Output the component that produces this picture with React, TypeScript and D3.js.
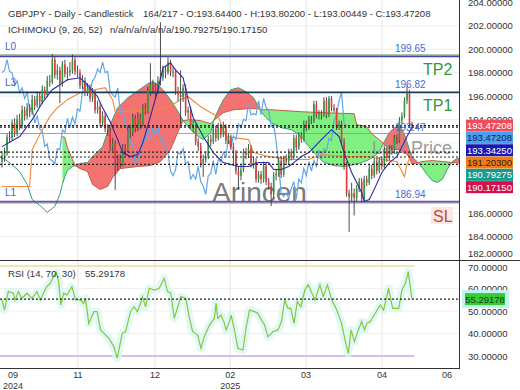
import React from 'react';
import * as d3 from 'd3';

type Pt = [number, number];

// daily candles, bar index 0..163
const OPEN = [
  190.4, 190.9, 191.1, 192.5, 192.4, 193.7, 192.8, 194.0, 193.4, 194.8,
  194.3, 195.0, 194.6, 195.7, 195.2, 196.0, 195.5, 196.5, 196.1, 197.3,
  197.2, 199.1, 197.8, 198.2, 197.1, 198.7, 197.9, 198.0, 198.2, 199.1,
  198.1, 198.0, 196.9, 197.3, 196.3, 196.7, 195.8, 196.3, 194.8, 195.1,
  193.7, 194.3, 193.2, 193.0, 191.7, 191.9, 190.6, 190.5, 190.2, 191.5,
  191.4, 193.1, 192.9, 194.1, 193.3, 194.2, 193.6, 194.9, 194.7, 196.4,
  197.0, 196.8, 196.4, 197.3, 197.6, 198.3, 198.0, 198.9, 198.0, 198.1,
  196.4, 196.1, 195.9, 196.7, 194.6, 194.8, 193.5, 193.3, 192.1, 191.7,
  190.2, 190.6, 190.8, 192.3, 192.1, 193.2, 192.4, 193.3, 192.7, 193.4,
  192.2, 192.4, 191.7, 191.1, 189.6, 189.2, 189.7, 191.2, 191.0, 191.5,
  190.2, 190.4, 188.9, 189.3, 188.9, 190.0, 188.7, 188.3, 187.6, 189.2,
  189.4, 190.5, 189.3, 190.6, 190.4, 191.2, 190.8, 192.4, 191.6, 192.6,
  192.3, 193.6, 193.3, 194.0, 193.9, 195.3, 194.4, 194.5, 194.4, 195.6,
  194.4, 195.8, 195.0, 194.8, 193.4, 193.6, 192.1, 190.0, 187.7, 187.4,
  187.7, 187.3, 188.1, 188.7, 187.2, 188.9, 188.6, 189.8, 189.2, 190.4,
  189.6, 190.5, 190.0, 191.4, 190.7, 191.5, 191.3, 192.4, 192.2, 193.9,
  194.3, 195.6, 196.3, 193.644,
];
const HIGH = [
  191.3, 191.6, 192.8, 193.0, 194.0, 194.1, 194.4, 194.5, 195.2, 195.1,
  195.4, 195.3, 196.1, 196.0, 196.4, 196.3, 196.9, 196.8, 197.7, 197.8,
  199.6, 199.4, 198.7, 198.5, 199.0, 199.1, 198.5, 198.9, 199.55, 199.3,
  198.6, 198.3, 197.8, 197.6, 197.1, 197.0, 196.7, 196.5, 195.6, 195.4,
  194.7, 194.6, 193.6, 193.3, 192.4, 192.2, 191.0, 191.0, 191.9, 191.9,
  193.5, 193.5, 194.5, 194.4, 194.6, 194.5, 195.3, 195.4, 196.8, 198.8,
  197.4, 197.1, 197.7, 202.3, 198.6, 198.6, 199.3, 199.1, 198.5, 198.3,
  196.8, 198.2, 197.0, 197.0, 195.1, 195.1, 193.9, 193.6, 192.4, 192.0,
  191.0, 191.3, 192.6, 192.7, 193.6, 193.5, 193.7, 193.6, 193.8, 193.6,
  192.8, 192.7, 192.0, 191.4, 190.0, 190.1, 191.5, 191.6, 191.9, 191.8,
  190.8, 190.7, 189.6, 189.6, 190.4, 190.3, 189.0, 188.6, 189.5, 189.8,
  190.8, 190.8, 190.9, 191.0, 191.5, 191.5, 192.7, 192.7, 192.9, 192.9,
  193.9, 193.9, 194.3, 194.3, 195.6, 195.6, 194.8, 194.8, 195.9, 195.9,
  196.0, 196.0, 195.3, 195.0, 193.9, 193.9, 192.4, 190.4, 188.0, 188.6,
  188.1, 188.4, 189.0, 189.0, 189.2, 189.2, 190.1, 190.1, 190.7, 190.7,
  190.8, 190.8, 191.7, 191.7, 191.8, 191.8, 192.7, 192.7, 194.2, 194.6,
  195.9, 196.9, 196.5, 193.802,
];
const LOW = [
  189.9, 190.4, 190.9, 192.0, 192.2, 192.5, 192.6, 193.1, 193.2, 193.9,
  194.0, 194.2, 194.4, 194.8, 195.0, 195.1, 195.3, 195.7, 195.9, 196.8,
  197.0, 197.5, 197.4, 195.4, 196.8, 197.6, 197.3, 197.7, 197.9, 197.8,
  197.6, 196.6, 196.6, 196.0, 196.0, 195.5, 195.5, 194.5, 194.5, 193.4,
  193.4, 192.9, 192.6, 191.3, 191.3, 188.0, 189.6, 189.8, 190.0, 190.9,
  191.2, 192.4, 192.6, 192.9, 193.0, 193.2, 193.4, 194.4, 194.5, 196.0,
  196.2, 195.8, 196.2, 196.9, 197.3, 197.5, 197.8, 197.7, 197.6, 196.1,
  195.6, 193.6, 195.5, 194.3, 194.0, 193.2, 192.9, 191.8, 191.3, 189.9,
  189.1, 190.3, 190.6, 191.7, 191.9, 192.1, 192.2, 192.4, 192.5, 191.9,
  191.9, 191.4, 190.2, 189.3, 188.0, 188.8, 189.5, 190.6, 190.7, 189.9,
  189.8, 188.6, 188.6, 188.5, 188.6, 188.4, 188.0, 186.6, 187.3, 188.8,
  189.1, 189.0, 189.1, 190.1, 190.2, 190.5, 190.6, 191.3, 191.4, 192.0,
  192.1, 193.0, 193.1, 193.6, 193.7, 194.1, 194.0, 194.0, 194.2, 194.1,
  194.2, 194.7, 194.6, 193.1, 193.1, 191.8, 189.7, 187.4, 184.4, 187.0,
  185.8, 187.0, 187.8, 186.9, 187.0, 188.3, 188.4, 188.9, 189.0, 189.3,
  189.4, 189.7, 189.8, 190.4, 190.5, 191.0, 191.1, 191.9, 192.0, 193.6,
  194.1, 195.3, 193.4, 193.00449,
];
const CLOSE = [
  190.9, 191.1, 192.5, 192.4, 193.7, 192.8, 194.0, 193.4, 194.8, 194.3,
  195.0, 194.6, 195.7, 195.2, 196.0, 195.5, 196.5, 196.1, 197.3, 197.2,
  199.1, 197.8, 198.2, 197.1, 198.7, 197.9, 198.0, 198.2, 199.1, 198.1,
  198.0, 196.9, 197.3, 196.3, 196.7, 195.8, 196.3, 194.8, 195.1, 193.7,
  194.3, 193.2, 193.0, 191.7, 191.9, 190.6, 190.5, 190.2, 191.5, 191.4,
  193.1, 192.9, 194.1, 193.3, 194.2, 193.6, 194.9, 194.7, 196.4, 197.0,
  196.8, 196.4, 197.3, 197.6, 198.3, 198.0, 198.9, 198.0, 198.1, 196.4,
  196.1, 195.9, 196.7, 194.6, 194.8, 193.5, 193.3, 192.1, 191.7, 190.2,
  190.6, 190.8, 192.3, 192.1, 193.2, 192.4, 193.3, 192.7, 193.4, 192.2,
  192.4, 191.7, 191.1, 189.6, 189.2, 189.7, 191.2, 191.0, 191.5, 190.2,
  190.4, 188.9, 189.3, 188.9, 190.0, 188.7, 188.3, 187.6, 189.2, 189.4,
  190.5, 189.3, 190.6, 190.4, 191.2, 190.8, 192.4, 191.6, 192.6, 192.3,
  193.6, 193.3, 194.0, 193.9, 195.3, 194.4, 194.5, 194.4, 195.6, 194.4,
  195.8, 195.0, 194.8, 193.4, 193.6, 192.1, 190.0, 187.7, 187.4, 187.7,
  187.3, 188.1, 188.7, 187.2, 188.9, 188.6, 189.8, 189.2, 190.4, 189.6,
  190.5, 190.0, 191.4, 190.7, 191.5, 191.3, 192.4, 192.2, 193.9, 194.3,
  195.6, 196.3, 193.644, 193.47208,
];

// ichimoku lines, [bar index, price]
const TENKAN: Pt[] = [
  [0, 191.68], [7, 192.54], [12, 193.98], [16, 195.43], [20, 196.54], [26, 197.39], [31, 197.56],
  [34, 196.96], [38, 195.94], [40, 195.0], [43, 193.81], [46, 192.28], [48, 191.17], [51, 190.83],
  [54, 191.0], [56, 192.03], [59, 194.24], [62, 196.54], [64, 198.41], [67, 198.83], [69, 198.24],
  [72, 197.56], [74, 195.69], [76, 194.15], [80, 192.54], [84, 191.17], [88, 190.32], [94, 189.98],
  [98, 189.98], [102, 190.32], [106, 190.32], [108, 189.73], [111, 189.73], [114, 189.98], [116, 190.32],
  [119, 190.83], [122, 191.17], [127, 192.28], [131, 193.13], [134, 192.54], [136, 191.17], [139, 189.47],
  [143, 187.77], [144, 187.0], [146, 187.17], [148, 188.03], [151, 189.47], [154, 190.32], [157, 190.83],
  [159, 191.68], [161, 192.54], [163, 193.3425],
];
const KIJUN: Pt[] = [
  [0, 188.28], [11, 188.28], [12, 191.43], [16, 193.13], [19, 194.24], [22, 195.0], [26, 195.69],
  [31, 196.28], [41, 196.71], [44, 195.69], [45, 194.66], [63, 194.83], [67, 195.17], [71, 195.69],
  [74, 195.94], [79, 195.09], [83, 194.58], [86, 194.24], [89, 192.54], [98, 192.28], [100, 191.17],
  [106, 190.83], [115, 190.58], [122, 190.58], [127, 191.0], [138, 190.83], [146, 190.83], [151, 190.58],
  [157, 190.41], [160, 189.13], [161, 190.15], [163, 191.203],
];
const SPAN_A: Pt[] = [
  [0, 190.75], [3, 190.32], [7, 189.56], [10, 188.45], [12, 187.17], [15, 186.66], [18, 186.07],
  [21, 186.58], [23, 187.6], [24, 188.45], [25, 189.13], [26, 189.64], [28, 189.98], [31, 190.24],
  [34, 190.32], [36, 190.83], [40, 191.68], [43, 193.56], [46, 195.0], [50, 195.85], [54, 196.45],
  [58, 197.05], [60, 197.22], [62, 196.96], [64, 196.54], [67, 195.69], [70, 194.66], [72, 193.9],
  [75, 193.13], [78, 192.54], [80, 192.28], [83, 192.88], [84, 193.81], [86, 194.83], [88, 195.69],
  [91, 196.54], [94, 196.71], [97, 196.37], [100, 195.85], [102, 195.09], [103, 194.66], [105, 194.15],
  [107, 193.73], [111, 193.3], [115, 193.13], [118, 192.71], [120, 192.28], [122, 191.68], [124, 191.17],
  [126, 190.75], [128, 190.32], [132, 190.07], [136, 189.98], [140, 190.15], [143, 190.32], [146, 190.58],
  [148, 190.83], [150, 191.26], [152, 192.11], [154, 192.88], [156, 193.3], [158, 193.47], [160, 192.71],
  [162, 191.43], [163, 190.79275], [165, 190.41], [167, 189.9], [169, 189.3], [171, 188.79], [173, 188.62],
  [175, 188.88], [177, 189.73], [179, 190.41], [181, 190.66], [184, 190.75], [189, 191.0],
];
const SPAN_B: Pt[] = [
  [24, 192.54], [25, 192.45], [26, 191.6], [28, 190.58], [29, 190.07], [31, 189.81], [34, 189.56],
  [36, 188.45], [39, 188.03], [42, 188.28], [44, 189.05], [47, 189.81], [54, 189.98], [59, 190.07],
  [63, 190.41], [67, 191.43], [70, 192.96], [72, 193.9], [75, 193.98], [79, 193.9], [83, 193.64],
  [84, 193.9], [88, 194.58], [92, 194.83], [98, 194.92], [102, 194.92], [103, 194.83], [107, 194.83],
  [119, 194.66], [127, 194.58], [140, 194.49], [141, 193.56], [145, 193.39], [147, 192.79], [150, 192.28],
  [152, 191.86], [154, 191.6], [156, 191.43], [158, 191.43], [160, 191.26], [162, 190.75], [163, 190.1715],
  [167, 190.41], [171, 190.49], [175, 190.41], [179, 190.32], [184, 190.24], [189, 190.24],
];
const RSI: Pt[] = [
  [0, 54.9], [1, 50.4], [2.5, 58.6], [4.5, 57.9], [5.2, 54.9], [6.5, 58.6], [7.9, 55.6], [9.9, 57.9],
  [11.9, 55.6], [13.9, 58.6], [15.2, 54.9], [16.5, 57.9], [17.8, 60.8], [19.2, 62.3], [20.5, 65.3],
  [21.6, 67.0], [22.5, 63.0], [23.4, 52.7], [24.5, 57.9], [25.8, 57.1], [27.8, 60.8], [29.2, 54.9],
  [31.2, 54.9], [32.5, 53.4], [33.2, 55.6], [34.5, 44.5], [36.5, 49.7], [37.8, 49.7], [39.2, 41.6],
  [42.5, 37.9], [44.5, 34.1], [45.8, 29.0], [47.8, 40.1], [49.1, 40.8], [51.1, 49.7], [52.5, 51.9],
  [53.8, 49.7], [55.1, 53.4], [55.8, 56.4], [57.1, 51.9], [58.5, 60.1], [60.5, 59.3], [62.5, 60.1],
  [64.5, 64.5], [65.8, 58.6], [67.1, 57.9], [68.5, 46.7], [71.1, 56.4], [73.1, 55.6], [74.4, 47.5],
  [75.8, 40.8], [77.8, 39.3], [79.1, 33.4], [80.4, 38.6], [82.5, 43.8], [84.4, 46.7], [85.1, 53.4],
  [85.8, 46.7], [87.1, 48.2], [88.2, 45.3], [89.1, 41.6], [90.4, 45.3], [91.1, 48.2], [92.4, 41.6],
  [93.8, 33.4], [95.8, 32.7], [97.1, 43.0], [98.4, 50.4], [100.4, 49.7], [101.7, 49.0], [102.4, 47.5],
  [104.4, 43.8], [105.7, 38.6], [107.7, 40.8], [109.7, 41.6], [111.1, 45.3], [112.4, 54.9], [113.7, 51.2],
  [114.8, 51.2], [116.1, 44.5], [117.4, 54.2], [118.8, 51.9], [120.4, 59.3], [121.7, 61.6], [124.4, 54.9],
  [126.4, 61.6], [127.7, 56.4], [129.4, 61.6], [131.1, 54.9], [133.1, 50.4], [135.0, 44.5], [136.4, 37.1],
  [137.7, 31.2], [138.8, 41.6], [140.1, 36.4], [141.4, 40.8], [143.0, 45.3], [144.1, 41.6], [145.0, 44.5],
  [146.4, 45.3], [148.4, 49.0], [150.4, 52.7], [151.7, 50.4], [153.7, 60.1], [155.3, 51.2], [157.7, 51.2],
  [159.0, 59.3], [160.4, 62.3], [161.5, 67.5], [162.4, 60.0], [163, 55.29178],
];

const LEVEL_NAMES = ['L0', 'L3', 'L1'];
const LEVEL_VALUES = [199.43, 196.31, 186.95];
const LEVEL_TEXT = ['199.65', '196.82', '186.94'];
const LAST_PRICE_LINE = 192.8;
const DOTTED = [193.47208, 193.3425, 191.203, 190.79275, 190.1715];
const TAG_VALUES = [193.47208, 193.47208, 193.3425, 191.203, 190.79275, 190.1715];
const RSI_LAST = 55.29178;

// axis labels that are not hidden behind the value tags
const PRICE_TICKS = [182, 184, 186, 194, 196, 198, 200, 202, 204];
const RSI_TICKS = [20, 30, 40, 50, 60, 70];
const GRID_PRICES = [184, 186, 188, 190, 192, 194, 196, 198, 200, 202];

const TICK_POS = [4.4, 30.2, 60.8, 90.7, 120.9, 151.1, 176.9];
const TICK_MONTH = ['09', '11', '12', '02', '03', '04', '06'];
const TICK_YEAR = ['2024', '', '', '2025', '', '', ''];

const FONT = '"Liberation Sans", Arial, sans-serif';
const TAG_FILL = ['#ef4b5a', '#4a9ef0', '#1818b4', '#f27a12', '#159a8c', '#d3104b'];
const TAG_TEXT = ['#fff', '#10205a', '#fff', '#222', '#fff', '#fff'];

export default function App() {
  const plotR = 459;
  const mainBot = 260;
  const rsiTop = 261;
  const rsiBot = 368;

  const x = d3.scaleLinear().domain([0, 163]).range([2, 412]);
  const y = d3.scaleLinear().domain([182, 204.2]).range([mainBot, 0]);
  const yr = d3.scaleLinear().domain([24.7, 72.2]).range([rsiBot, rsiTop]);
  const fmt = d3.format('.5f');

  const line = d3.line<Pt>().x(d => x(d[0])).y(d => y(d[1]));
  const rsiLine = d3.line<Pt>().x(d => x(d[0])).y(d => yr(d[1]));
  const top = (data: Pt[]) => d3.area<Pt>().x(d => x(d[0])).y0(0).y1(d => y(d[1]))(data) || '';
  const bottom = (data: Pt[]) => d3.area<Pt>().x(d => x(d[0])).y0(mainBot).y1(d => y(d[1]))(data) || '';

  const chikou: Pt[] = CLOSE.slice(26).map((c, i) => [i, c]);

  return (
    <svg width={520} height={390} style={{ position: 'absolute', left: 0, top: 0, background: '#fff' }}
      fontFamily={FONT}>
      <defs>
        <clipPath id="plot"><rect x={0} y={0} width={plotR} height={mainBot} /></clipPath>
        <clipPath id="rsiclip"><rect x={0} y={rsiTop} width={plotR} height={rsiBot - rsiTop} /></clipPath>
        <clipPath id="rsiaxis"><rect x={460} y={rsiTop} width={60} height={369 - rsiTop} /></clipPath>
        <clipPath id="aboveA"><path d={top(SPAN_A)} /></clipPath>
        <clipPath id="aboveB"><path d={top(SPAN_B)} /></clipPath>
      </defs>
      <rect x={0} y={0} width={520} height={390} fill="#fff" />

      {/* grid */}
      {TICK_POS.slice(1, 6).map((t, i) => (
        <line key={'vg' + i} x1={x(t)} x2={x(t)} y1={0} y2={rsiBot} stroke="#e4e4e4" />
      ))}
      {GRID_PRICES.map(v => (
        <line key={'hg' + v} x1={0} x2={plotR} y1={y(v)} y2={y(v)} stroke="#efefef" />
      ))}
      {[40, 50, 60].map(v => (
        <line key={'rg' + v} x1={0} x2={plotR} y1={yr(v)} y2={yr(v)} stroke="#efefef" />
      ))}

      <g clipPath="url(#plot)">
        {/* cloud */}
        <path d={bottom(SPAN_B)} fill="#6cec6c" fillOpacity={0.85} clipPath="url(#aboveA)" />
        <path d={bottom(SPAN_A)} fill="#f26464" fillOpacity={0.9} clipPath="url(#aboveB)" />

        <line x1={0} x2={plotR} y1={y(LAST_PRICE_LINE)} y2={y(LAST_PRICE_LINE)} stroke="#9a9a9a" strokeWidth={0.9} />
        <text x={452} y={y(LAST_PRICE_LINE) + 20} textAnchor="end" fontSize={18} fill="#9c9c9c">Last Price</text>
        <text x={212} y={202} fontSize={28} fill="#555" fillOpacity={0.8}>Arincen</text>

        <path d={line(SPAN_A) || ''} fill="none" stroke="#3f9a78" strokeWidth={1} />
        <path d={line(SPAN_B) || ''} fill="none" stroke="#c65a4a" strokeWidth={1} />
        <path d={line(chikou) || ''} fill="none" stroke="#62a6e6" strokeWidth={1.2} />
        <path d={line(KIJUN) || ''} fill="none" stroke="#f28a3a" strokeWidth={1.1} />

        {/* levels */}
        <line x1={0} x2={plotR} y1={y(LEVEL_VALUES[0]) - 0.8} y2={y(LEVEL_VALUES[0]) - 0.8} stroke="#3e9a5e" strokeWidth={1.2} />
        <line x1={0} x2={plotR} y1={y(LEVEL_VALUES[0]) + 0.8} y2={y(LEVEL_VALUES[0]) + 0.8} stroke="#5a3ea8" strokeWidth={1.2} />
        <line x1={0} x2={plotR} y1={y(LEVEL_VALUES[1])} y2={y(LEVEL_VALUES[1])} stroke="#143a5c" strokeWidth={1.6} />
        <line x1={0} x2={plotR} y1={y(LEVEL_VALUES[2]) - 0.6} y2={y(LEVEL_VALUES[2]) - 0.6} stroke="#7a4ab8" strokeWidth={1.3} />
        <line x1={0} x2={plotR} y1={y(LEVEL_VALUES[2]) + 0.8} y2={y(LEVEL_VALUES[2]) + 0.8} stroke="#3a2a6a" strokeWidth={0.8} />

        {/* candles */}
        {CLOSE.map((c, i) => {
          const o = OPEN[i];
          const up = c >= o;
          const cx = x(i);
          const y0 = y(Math.max(o, c));
          const y1 = y(Math.min(o, c));
          return (
            <g key={'c' + i}>
              <line x1={cx} x2={cx} y1={y(HIGH[i])} y2={y(LOW[i])} stroke="#3a3a3a" strokeWidth={0.9} />
              <rect x={cx - 0.8} y={y0} width={1.6} height={Math.max(1, y1 - y0)} fill={up ? '#2e9e3e' : '#e23a3a'} />
            </g>
          );
        })}

        <path d={line(TENKAN) || ''} fill="none" stroke="#2a2aa6" strokeWidth={1.1} />

        {DOTTED.map((v, i) => (
          <line key={'d' + i} x1={0} x2={plotR} y1={y(v)} y2={y(v)} stroke="#222" strokeWidth={1.2} strokeDasharray="2,2" />
        ))}

        {/* level captions */}
        {LEVEL_NAMES.map((n, i) => (
          <text key={'ln' + i} x={5} y={y(LEVEL_VALUES[i]) - 6} fontSize={10} fill="#4a66c8">{n}</text>
        ))}
        {LEVEL_TEXT.map((t, i) => (
          <text key={'lt' + i} x={395} y={y(LEVEL_VALUES[i]) - 4} fontSize={10} fill="#4a6ad8">{t}</text>
        ))}
        <text x={395} y={y(DOTTED[0]) + 5} fontSize={10} fill="#4a6ad8">193.47</text>
        <text x={423} y={y(LEVEL_VALUES[0]) + 19} fontSize={16} fill="#2a9a3a">TP2</text>
        <text x={423} y={y(LEVEL_VALUES[1]) + 19} fontSize={16} fill="#2a9a3a">TP1</text>
        <rect x={431} y={y(LEVEL_VALUES[2]) + 5} width={22} height={17} fill="#fde6e6" />
        <text x={433} y={y(LEVEL_VALUES[2]) + 20} fontSize={16} fill="#b4502a">SL</text>
      </g>

      {/* header */}
      <text x={8} y={17} fontSize={9.6} fill="#333">GBPJPY - Daily - Candlestick</text>
      <text x={143} y={17} fontSize={9.6} fill="#333">164/217 - O:193.64400 - H:193.80200 - L:193.00449 - C:193.47208</text>
      <text x={8} y={33} fontSize={9.6} fill="#333">ICHIMOKU (9, 26, 52)</text>
      <text x={110} y={33} fontSize={9.6} fill="#333">n/a/n/a/n/a/n/a/190.79275/190.17150</text>

      {/* price axis */}
      {PRICE_TICKS.map(v => (
        <text key={'pt' + v} x={468} y={Math.min(y(v), 253) + 3.5} fontSize={9.5} fill="#333">{fmt(v)}</text>
      ))}
      {TAG_VALUES.map((v, i) => {
        const cy = y(TAG_VALUES[0]) + i * 12.3;
        return (
          <g key={'tag' + i}>
            <rect x={466} y={cy - 6} width={47} height={12} fill={TAG_FILL[i]} />
            <text x={489.5} y={cy + 3.5} textAnchor="middle" fontSize={9.5} fill={TAG_TEXT[i]}>{fmt(v)}</text>
          </g>
        );
      })}

      {/* RSI panel */}
      <g clipPath="url(#rsiclip)">
        <line x1={0} x2={x(164)} y1={yr(70)} y2={yr(70)} stroke="#e8dda2" strokeWidth={1.6} />
        <line x1={0} x2={x(164)} y1={yr(30)} y2={yr(30)} stroke="#c8a8e2" strokeWidth={1.6} />
        <path d={rsiLine(RSI) || ''} fill="none" stroke="#d8f6f4" strokeWidth={8} strokeLinejoin="round" strokeOpacity={0.8} />
        <path d={rsiLine(RSI) || ''} fill="none" stroke="#8cc43e" strokeWidth={1.2} />
        <line x1={0} x2={plotR} y1={yr(RSI_LAST)} y2={yr(RSI_LAST)} stroke="#222" strokeWidth={1.2} strokeDasharray="2,2" />
      </g>
      <text x={8} y={277} fontSize={9.6} fill="#333">RSI (14, 70, 30)</text>
      <text x={85} y={277} fontSize={9.6} fill="#333">55.29178</text>
      <g clipPath="url(#rsiaxis)">
        {RSI_TICKS.map(v => (
          <text key={'rt' + v} x={468} y={Math.max(yr(v), 267) + 3.5} fontSize={9.5} fill="#333">{fmt(v)}</text>
        ))}
      </g>
      <rect x={462} y={yr(RSI_LAST) - 9} width={47} height={18} fill="#c2f2f2" />
      <rect x={465} y={yr(RSI_LAST) - 6} width={40} height={12} fill="#36cc36" />
      <text x={485} y={yr(RSI_LAST) + 3.5} textAnchor="middle" fontSize={9.5} fill="#1a3a1a">{fmt(RSI_LAST)}</text>

      {/* frame */}
      <line x1={0} x2={520} y1={260.5} y2={260.5} stroke="#333" />
      <line x1={0} x2={plotR} y1={rsiBot + 0.5} y2={rsiBot + 0.5} stroke="#333" />
      <line x1={plotR + 0.5} x2={plotR + 0.5} y1={0} y2={rsiBot + 1} stroke="#333" />

      {/* time axis */}
      {TICK_POS.map((t, i) => (
        <g key={'xt' + i}>
          <text x={x(t)} y={378} textAnchor="middle" fontSize={9} fill="#333">{TICK_MONTH[i]}</text>
          {TICK_YEAR[i] && (
            <text x={x(t)} y={389} textAnchor="middle" fontSize={9} fill="#333">{TICK_YEAR[i]}</text>
          )}
        </g>
      ))}
    </svg>
  );
}
